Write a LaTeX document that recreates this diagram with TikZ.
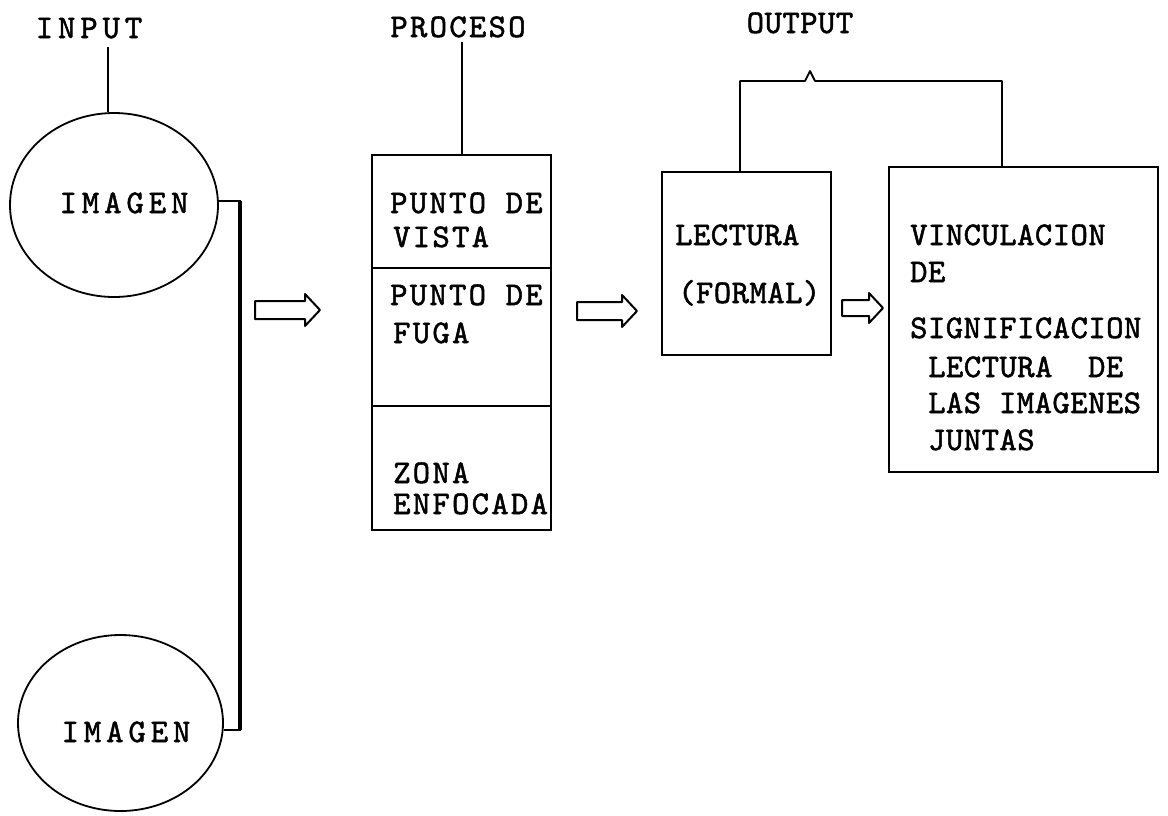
\documentclass[tikz,border=0pt]{standalone}
\usepackage{fontspec}
\setmonofont{lmmono10-regular.otf}[FakeBold=1.6]
\usetikzlibrary{shapes.geometric}
\begin{document}
\begin{tikzpicture}[x=1pt,y=-1pt,
  lbl/.style={inner sep=0pt, anchor=base west},
  lsW/.style={font=\ttfamily\fontsize{33}{36}\selectfont\addfontfeature{LetterSpace=15}},
  lsM/.style={font=\ttfamily\fontsize{33}{36}\selectfont\addfontfeature{LetterSpace=7}},
  lsN/.style={font=\ttfamily\fontsize{33}{36}\selectfont\addfontfeature{LetterSpace=1.5}},
  bx/.style={draw, line width=2pt, rectangle, inner sep=0pt},
  oval/.style={draw, ellipse, line width=1.8pt, inner sep=0pt},
  conn/.style={line width=1.8pt},
  heavy/.style={line width=3.8pt},
  harrow/.style={draw, line width=2pt, line join=round},
]
\fill[white] (0,0) rectangle (1168,815);
\useasboundingbox (0,0) rectangle (1168,815);

% ---------- INPUT ----------
\node[lbl, lsW, anchor=base] (tin) at (89,38) {INPUT};
\node[oval, minimum width=208pt, minimum height=184pt] (c1) at (114,205) {};
\node[oval, minimum width=205pt, minimum height=176pt] (c2) at (120.5,723) {};
\node[lbl, lsW, anchor=base] (i1) at (124,213) {IMAGEN};
\node[lbl, lsW, anchor=base] (i2) at (126,742) {IMAGEN};
\coordinate (inl) at (108,47);
\draw[conn] (inl) -- (inl |- c1.north);
\coordinate (vx) at (240,0);
\draw[conn] (c1.2) -- (c1.2 -| vx) -- (c2.-4 -| vx) -- (c2.-4);
\draw[heavy] (c1.2 -| vx) -- (c2.-4 -| vx);

% ---------- arrows ----------
\coordinate (a1) at (255,310);
\coordinate (a2) at (577,311);
\coordinate (a3) at (842,308);
\draw[harrow] (a1) ++(0,-9) -- ++(50,0) -- ++(0,-7) -- ++(15,16) -- ++(-15,16) -- ++(0,-7) -- ++(-50,0) -- cycle;
\draw[harrow] (a2) ++(0,-9) -- ++(45,0) -- ++(0,-7) -- ++(15,16) -- ++(-15,16) -- ++(0,-7) -- ++(-45,0) -- cycle;
\draw[harrow] (a3) ++(0,-8) -- ++(27,0) -- ++(0,-7) -- ++(14,15) -- ++(-14,15) -- ++(0,-7) -- ++(-27,0) -- cycle;

% ---------- PROCESO ----------
\node[lbl, lsM, anchor=base] (tpro) at (458,37) {PROCESO};
\node[bx, minimum width=179pt, minimum height=113pt] (pv) at (461.5,211.5) {};
\node[bx, minimum width=179pt, minimum height=138pt] (pf) at (461.5,337) {};
\node[bx, minimum width=179pt, minimum height=124pt] (zf) at (461.5,468) {};
\coordinate (pl) at (462,42);
\draw[conn] (pl) -- (pl |- pv.north);
\node[lbl, lsM] (t1) at (390,213) {PUNTO DE};
\node[lbl, lsM] (t2) at (393,247) {VISTA};
\node[lbl, lsM] (t3) at (390,305) {PUNTO DE};
\node[lbl, lsM] (t4) at (393,343) {FUGA};
\node[lbl, lsM] (t5) at (393,483) {ZONA};
\node[lbl, lsM] (t6) at (393,514) {ENFOCADA};

% ---------- OUTPUT ----------
\node[lbl, lsN, anchor=base] (tout) at (800,33) {OUTPUT};
\node[bx, minimum width=169pt, minimum height=183pt] (lec) at (746.5,263.5) {};
\node[bx, minimum width=269pt, minimum height=305pt] (vin) at (1023.5,319.5) {};
\node[lbl, lsN] (l1) at (675,245) {LECTURA};
\node[lbl, lsN] (l2) at (678,303) {(FORMAL)};
\node[lbl, lsN] (v1) at (910,245) {VINCULACION};
\node[lbl, lsN] (v2) at (910,282) {DE};
\node[lbl, lsN] (v3) at (910,338) {SIGNIFICACION};
\node[lbl, lsN] (v4) at (928,377) {LECTURA~~DE};
\node[lbl, lsN] (v5) at (928,413) {LAS IMAGENES};
\node[lbl, lsN] (v6) at (928,450) {JUNTAS};
\coordinate (bl) at (740,81);
\coordinate (br) at (1002,81);
\draw[conn, line join=round] (bl |- lec.north) -- (bl) -- ++(65,0) -- ++(5,-10) -- ++(5,10) -- (br) -- (br |- vin.north);
\end{tikzpicture}
\end{document}
